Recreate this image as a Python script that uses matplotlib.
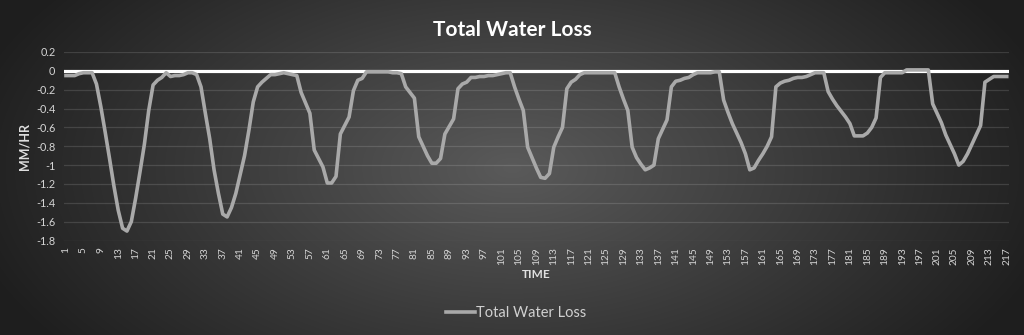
import numpy as np
import matplotlib
matplotlib.use("Agg")
import matplotlib.pyplot as plt

plt.rcParams['font.family'] = ['Lato', 'DejaVu Sans']

title = "Total Water Loss"
series_name = "Total Water Loss"
y_label = "MM/HR"
x_label = "TIME"

time_index = list(range(1, 218))

water_loss = [
    # 1-10
    -0.05, -0.05, -0.05, -0.03, -0.02, -0.02, -0.02, -0.14, -0.38, -0.65,
    # 11-20
    -0.93, -1.22, -1.48, -1.67, -1.70, -1.60, -1.35, -1.07, -0.78, -0.42,
    # 21-30
    -0.15, -0.10, -0.07, -0.02, -0.06, -0.05, -0.05, -0.04, -0.02, -0.02,
    # 31-40
    -0.04, -0.17, -0.45, -0.72, -1.05, -1.30, -1.52, -1.55, -1.45, -1.30,
    # 41-50
    -1.10, -0.90, -0.63, -0.33, -0.17, -0.12, -0.08, -0.04, -0.04, -0.03,
    # 51-60
    -0.02, -0.03, -0.04, -0.05, -0.23, -0.34, -0.45, -0.84, -0.93, -1.02,
    # 61-70
    -1.19, -1.19, -1.12, -0.67, -0.58, -0.49, -0.21, -0.10, -0.08, -0.01,
    # 71-80
    -0.01, -0.01, -0.01, -0.01, -0.01, -0.02, -0.02, -0.03, -0.17, -0.23,
    # 81-90
    -0.29, -0.70, -0.80, -0.90, -0.98, -0.98, -0.93, -0.67, -0.59, -0.51,
    # 91-100
    -0.19, -0.14, -0.12, -0.07, -0.07, -0.06, -0.06, -0.05, -0.05, -0.04,
    # 101-110
    -0.03, -0.02, -0.02, -0.17, -0.30, -0.42, -0.81, -0.92, -1.03, -1.13,
    # 111-120
    -1.14, -1.09, -0.81, -0.70, -0.60, -0.19, -0.12, -0.09, -0.04, -0.02,
    # 121-130
    -0.02, -0.02, -0.02, -0.02, -0.02, -0.02, -0.02, -0.17, -0.30, -0.42,
    # 131-140
    -0.81, -0.92, -0.99, -1.05, -1.03, -1.00, -0.72, -0.62, -0.52, -0.17,
    # 141-150
    -0.11, -0.10, -0.08, -0.07, -0.04, -0.02, -0.02, -0.02, -0.02, -0.01,
    # 151-160
    -0.01, -0.31, -0.44, -0.56, -0.66, -0.76, -0.88, -1.05, -1.03, -0.95,
    # 161-170
    -0.88, -0.80, -0.70, -0.17, -0.13, -0.11, -0.10, -0.08, -0.07, -0.07,
    # 171-180
    -0.06, -0.04, -0.02, -0.02, -0.02, -0.22, -0.30, -0.37, -0.43, -0.49,
    # 181-190
    -0.56, -0.69, -0.69, -0.69, -0.66, -0.60, -0.50, -0.07, -0.02, -0.02,
    # 191-200
    -0.02, -0.02, -0.02, 0.01, 0.01, 0.01, 0.01, 0.01, 0.01, -0.35,
    # 201-210
    -0.45, -0.55, -0.68, -0.78, -0.88, -1.00, -0.96, -0.88, -0.78, -0.68,
    # 211-217
    -0.58, -0.12, -0.09, -0.06, -0.06, -0.06, -0.06,
]

y_ticks = [0.2, 0, -0.2, -0.4, -0.6, -0.8, -1, -1.2, -1.4, -1.6, -1.8]
x_tick_values = list(range(1, 218, 4))

W, H = 1024, 335
fig = plt.figure(figsize=(W / 100, H / 100), dpi=100)

# radial gradient background
bg = fig.add_axes([0, 0, 1, 1], zorder=-10)
yy, xx = np.mgrid[0:H, 0:W]
r = np.sqrt(((xx - W * 0.5) / (W * 0.55)) ** 2 + ((yy - H * 0.5) / (H * 0.9)) ** 2)
r = np.clip(r, 0, 1)
c_in = np.array([0x5a, 0x5a, 0x5a]) / 255
c_out = np.array([0x1e, 0x1e, 0x1e]) / 255
img = c_in[None, None, :] * (1 - r[..., None]) + c_out[None, None, :] * r[..., None]
bg.imshow(img, aspect='auto', extent=[0, 1, 0, 1])
bg.axis('off')

ax = fig.add_axes([63.8 / W, 1 - 240.5 / H, (1008.9 - 63.8) / W, (240.5 - 52) / H])
ax.set_facecolor('none')
ax.set_xlim(0.5, 217.5)
ax.set_ylim(-1.8, 0.2)

for s in ax.spines.values():
    s.set_visible(False)

ax.set_yticks(y_ticks)
ax.set_yticklabels([f"{v:g}".replace("\u2212", "-") for v in y_ticks])
ax.grid(axis='y', color='white', alpha=0.13, lw=0.9)
ax.set_axisbelow(True)
ax.axhline(0, color='white', lw=2.3, zorder=2)

ax.plot(time_index, water_loss, color='#a9a9a9', lw=2.6, zorder=3,
        solid_joinstyle='round', label=series_name)

ax.set_xticks(x_tick_values)
ax.set_xticklabels([str(v) for v in x_tick_values], rotation=90)
ax.tick_params(axis='x', length=0, pad=5, labelsize=7.3, labelcolor='#d4d4d4')
ax.tick_params(axis='y', length=0, pad=6, labelsize=7.8, labelcolor='#d4d4d4')

ax.set_ylabel(y_label, fontsize=9, fontweight='bold', color='#e0e0e0', labelpad=4)
ax.set_xlabel(x_label, fontsize=8.5, fontweight='bold', color='#e0e0e0', labelpad=3)

fig.text(0.5, 1 - 30 / H, title, ha='center', va='center', fontsize=15,
         fontweight='bold', color='white')

leg = fig.legend(loc='center', bbox_to_anchor=(516 / W, 1 - 313 / H), frameon=False,
                 fontsize=10.5, handlelength=2.0, handletextpad=0.1)
for t in leg.get_texts():
    t.set_color('#d0d0d0')

fig.savefig("out.png", dpi=100)
